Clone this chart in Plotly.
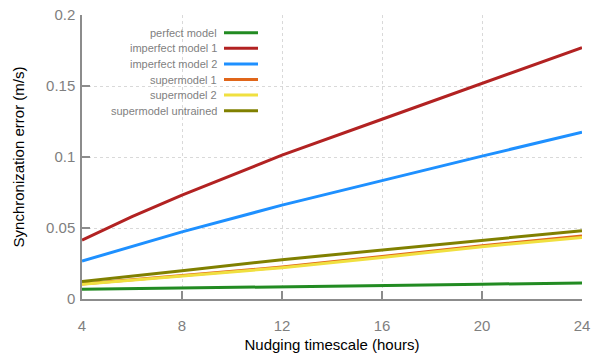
import plotly.graph_objects as go

# Nudging timescale (hours)
timescale = [4, 6, 8, 12, 16, 20, 24]

# Synchronization error (m/s) per model
perfect_model = [0.0068, 0.0072, 0.0076, 0.0086, 0.0095, 0.0104, 0.0113]
imperfect_model_1 = [0.0415, 0.0580, 0.0732, 0.1013, 0.1266, 0.1517, 0.1770]
imperfect_model_2 = [0.0267, 0.0370, 0.0473, 0.0661, 0.0835, 0.1006, 0.1175]
supermodel_1 = [0.0106, 0.0137, 0.0167, 0.0225, 0.0299, 0.0375, 0.0443]
supermodel_2 = [0.0103, 0.0133, 0.0162, 0.0220, 0.0293, 0.0368, 0.0434]
supermodel_untrained = [0.0124, 0.0160, 0.0199, 0.0277, 0.0345, 0.0415, 0.0481]

series = [
    ("perfect model", perfect_model, "#228b22"),
    ("imperfect model 1", imperfect_model_1, "#b22222"),
    ("imperfect model 2", imperfect_model_2, "#1e90ff"),
    ("supermodel 1", supermodel_1, "#e0661a"),
    ("supermodel 2", supermodel_2, "#f0e040"),
    ("supermodel untrained", supermodel_untrained, "#808000"),
]

x_ticks = [4, 8, 12, 16, 20, 24]
y_ticks = [0, 0.05, 0.1, 0.15, 0.2]
y_tick_text = ["0", "0.05", "0.1", "0.15", "0.2"]

FONT = "Liberation Sans, Arial, sans-serif"
GRAY = "#7f7f7f"

fig = go.Figure()
for name, values, color in series:
    fig.add_trace(go.Scatter(
        x=timescale, y=values, mode="lines", name=name,
        line=dict(color=color, width=3), showlegend=False,
    ))

# Key: right-aligned labels followed by a line sample
W, H = 599, 353
ml, mr, mt, mb = 82, 17, 15, 54
pw, ph = W - ml - mr, H - mt - mb
text_right_px = 219
line_x0_px, line_x1_px = 224, 258
row0_px, row_step = 32.7, 15.6

annotations = []
shapes = []
for i, (name, _, color) in enumerate(series):
    ypx = row0_px + i * row_step
    yp = 1 - (ypx - mt) / ph
    annotations.append(dict(
        xref="paper", yref="paper",
        x=(text_right_px - ml) / pw, y=yp,
        xanchor="right", yanchor="middle",
        text=name, showarrow=False,
        font=dict(family=FONT, size=11, color=GRAY),
    ))
    shapes.append(dict(
        type="line", xref="paper", yref="paper",
        x0=(line_x0_px - ml) / pw, x1=(line_x1_px - ml) / pw,
        y0=yp, y1=yp, line=dict(color=color, width=3),
    ))

fig.update_layout(
    width=W, height=H,
    margin=dict(l=ml, r=mr, t=mt, b=mb),
    paper_bgcolor="white", plot_bgcolor="white",
    font=dict(family=FONT, size=15, color=GRAY),
    annotations=annotations, shapes=shapes,
    xaxis=dict(
        range=[4, 24], tickvals=x_ticks, ticktext=[str(v) for v in x_ticks],
        showline=True, linecolor="#8c8c8c", linewidth=1.5, mirror=False,
        ticks="inside", ticklen=8, tickcolor="#8c8c8c", tickwidth=1.5,
        showgrid=True, gridcolor="#d9d9d9", griddash="dot", gridwidth=1,
        zeroline=False, ticklabelstandoff=12, automargin=False,
        tickfont=dict(family=FONT, size=15, color=GRAY),
        title=dict(text="Nudging timescale (hours)", standoff=7,
                   font=dict(family=FONT, size=15, color="black")),
    ),
    yaxis=dict(
        range=[0, 0.2], tickvals=y_ticks, ticktext=y_tick_text,
        showline=True, linecolor="#8c8c8c", linewidth=1.5, mirror=False,
        ticks="inside", ticklen=8, tickcolor="#8c8c8c", tickwidth=1.5,
        showgrid=True, gridcolor="#d9d9d9", griddash="dot", gridwidth=1,
        zeroline=False, ticklabelstandoff=2, automargin=False,
        tickfont=dict(family=FONT, size=15, color=GRAY),
        title=dict(text="Synchronization error (m/s)", standoff=18,
                   font=dict(family=FONT, size=15, color="black")),
    ),
)

fig.write_html("out.html")
